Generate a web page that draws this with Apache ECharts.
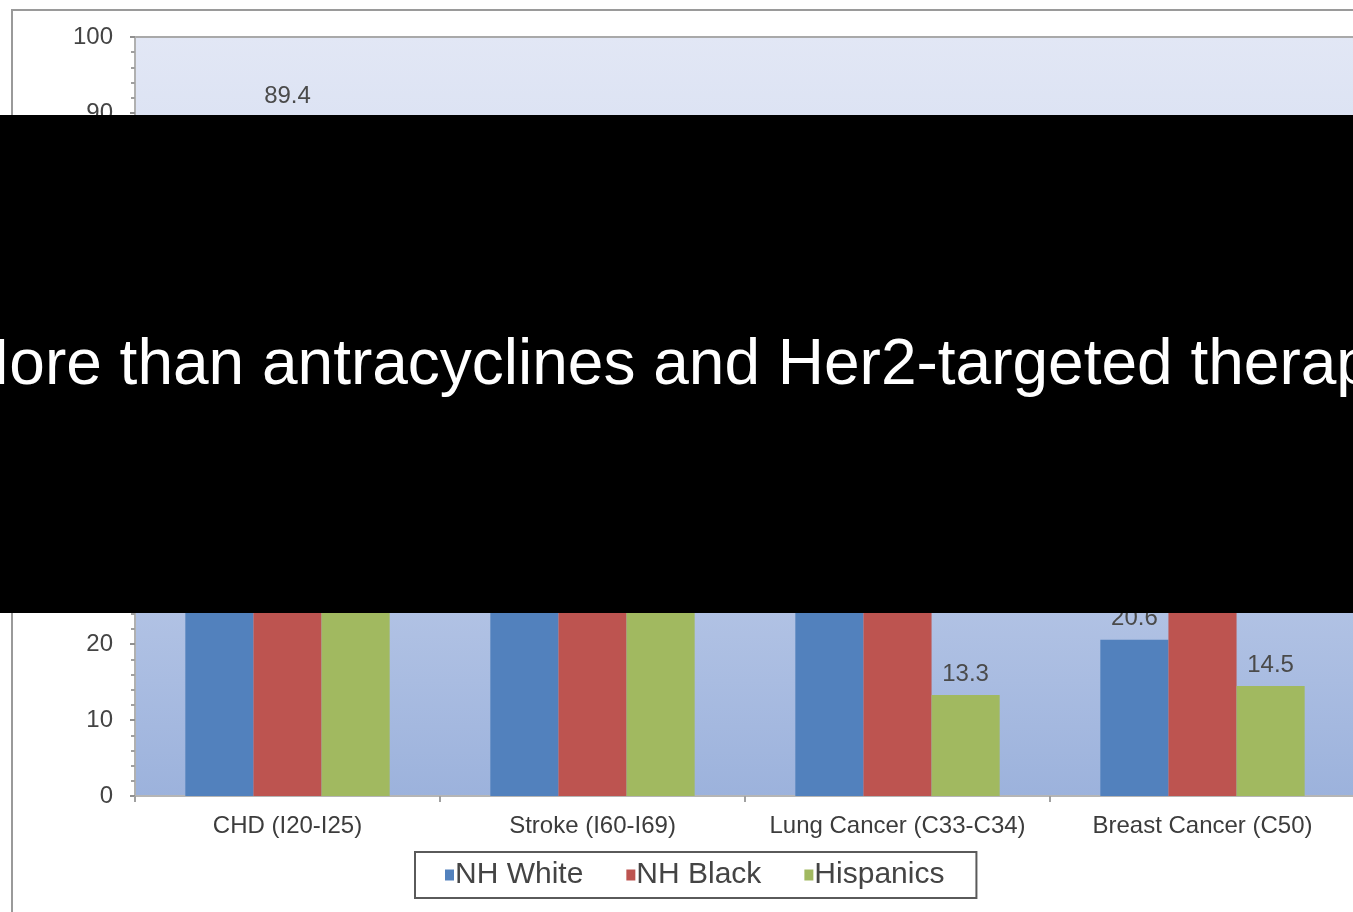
<!DOCTYPE html>
<html>
<head>
<meta charset="utf-8">
<title>Death rates by race/ethnicity</title>
<script src="https://cdn.jsdelivr.net/npm/echarts@6/dist/echarts.min.js"></script>
<style>
  html, body { margin: 0; padding: 0; background: #ffffff; overflow: hidden; }
  #chart { width: 1366px; height: 912px; }
</style>
</head>
<body>
<div id="chart"></div>
<script>
// Causes of death (ICD-10 codes) and age-adjusted rates per group
const categories = ['CHD (I20-I25)', 'Stroke (I60-I69)', 'Lung Cancer (C33-C34)', 'Breast Cancer (C50)'];
const nhWhite   = [76.2, 36.4, 38.1, 20.6];
const nhBlack   = [89.4, 48.7, 34.5, 29.2];
const hispanics = [57.8, 30.9, 13.3, 14.5];
const yTicks = [0, 10, 20, 30, 40, 50, 60, 70, 80, 90, 100];
const banner = 'More than antracyclines and Her2-targeted therapy';

const FONT = '"Liberation Sans", Arial, sans-serif';

const chart = echarts.init(document.getElementById('chart'), null, { renderer: 'canvas' });

const labelStyle = {
  show: true,
  position: 'top',
  distance: 9,
  color: '#4a4a4a',
  fontFamily: FONT,
  fontSize: 24,
  formatter: p => p.value.toFixed(1)
};

function barSeries(name, data, color) {
  return {
    name: name,
    type: 'bar',
    data: data,
    barGap: '0%',
    barCategoryGap: '33%',
    itemStyle: { color: color },
    label: labelStyle,
    emphasis: { disabled: true },
    z: 3
  };
}

chart.setOption({
  animation: false,
  backgroundColor: '#ffffff',
  grid: {
    left: 135, top: 37, right: 11, bottom: 116,
    show: true,
    borderWidth: 2,
    borderColor: '#a9a9a9',
    backgroundColor: {
      type: 'linear', x: 0, y: 0, x2: 0, y2: 1,
      colorStops: [
        { offset: 0, color: '#e2e7f5' },
        { offset: 0.45, color: '#cbd6ee' },
        { offset: 1, color: '#9cb2dc' }
      ]
    }
  },
  legend: {
    left: 415, top: 852,
    padding: [8, 32, 8, 30],
    backgroundColor: '#ffffff',
    borderColor: '#5a5a5a',
    borderWidth: 2,
    borderRadius: 0,
    itemWidth: 9, itemHeight: 11,
    itemGap: 43,
    icon: 'rect',
    textStyle: { fontFamily: FONT, fontSize: 30, color: '#444444', padding: [0, 0, 0, -4] },
    data: ['NH White', 'NH Black', 'Hispanics']
  },
  xAxis: {
    type: 'category',
    data: categories,
    axisLine: { show: true, lineStyle: { color: '#b5b5b5', width: 2 } },
    axisTick: { show: true, length: 6, lineStyle: { color: '#a0a0a0', width: 2 } },
    axisLabel: { interval: 0, color: '#3c3c3c', fontFamily: FONT, fontSize: 24, margin: 18 },
    splitLine: { show: false }
  },
  yAxis: {
    type: 'value',
    min: yTicks[0],
    max: yTicks[yTicks.length - 1],
    interval: 10,
    axisLine: { show: true, lineStyle: { color: '#b0b0b0', width: 2 } },
    axisTick: { show: true, length: 5, lineStyle: { color: '#909090', width: 2 } },
    minorTick: { show: true, splitNumber: 5, length: 4, lineStyle: { color: '#a0a0a0', width: 2 } },
    axisLabel: { color: '#444444', fontFamily: FONT, fontSize: 24, margin: 22 },
    splitLine: { show: false }
  },
  series: [
    barSeries('NH White', nhWhite, '#5281bd'),
    barSeries('NH Black', nhBlack, '#bd5450'),
    barSeries('Hispanics', hispanics, '#a1b960')
  ],
  graphic: [
    {
      // outer chart frame
      type: 'rect',
      silent: true,
      z: 0,
      shape: { x: 12, y: 10, width: 1400, height: 950 },
      style: { fill: 'none', stroke: '#9a9a9a', lineWidth: 2 }
    },
    {
      // caption banner
      type: 'group',
      z: 100,
      children: [
        {
          type: 'rect',
          shape: { x: 0, y: 115, width: 1366, height: 498 },
          style: { fill: '#000000' },
          z: 100
        },
        {
          type: 'text',
          z: 101,
          style: {
            x: -44, y: 366,
            text: banner,
            fill: '#ffffff',
            font: '64px "Liberation Sans", Arial, sans-serif',
            textVerticalAlign: 'middle'
          }
        }
      ]
    }
  ]
});
</script>
</body>
</html>
